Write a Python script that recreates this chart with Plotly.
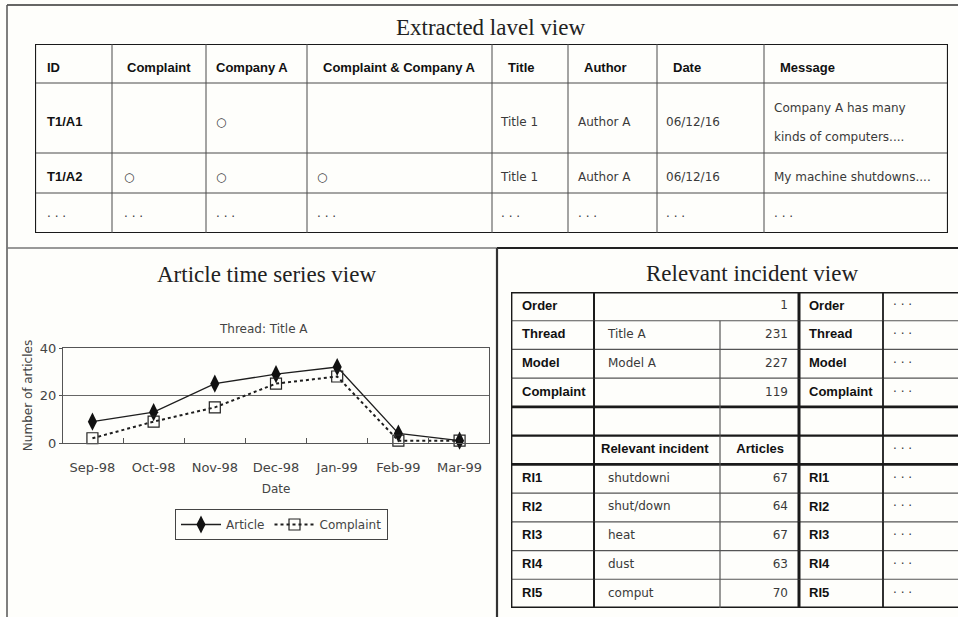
import plotly.graph_objects as go

W, H = 958, 617
def px(x): return x / W
def py(y): return 1 - y / H

# ---------------- data ----------------
months = ["Sep-98", "Oct-98", "Nov-98", "Dec-98", "Jan-99", "Feb-99", "Mar-99"]
article_counts = [9, 13, 25, 29, 32, 4, 1]
complaint_counts = [2, 9, 15, 25, 28, 1, 1]
y_ticks = [0, 20, 40]

DOTS = "· · ·"
ext_headers = ["ID", "Complaint", "Company A", "Complaint & Company A", "Title", "Author", "Date", "Message"]
ext_id = ["T1/A1", "T1/A2", DOTS]
ext_complaint = ["", "○", DOTS]
ext_company = ["○", "○", DOTS]
ext_both = ["", "○", DOTS]
ext_title = ["Title 1", "Title 1", DOTS]
ext_author = ["Author A", "Author A", DOTS]
ext_date = ["06/12/16", "06/12/16", DOTS]
ext_message = ["Company A has many<br>kinds of computers....", "My machine shutdowns....", DOTS]

ri_header = ["Order", "", "1", "Order", DOTS]
ri_label = ["Thread", "Model", "Complaint", "", "", "RI1", "RI2", "RI3", "RI4", "RI5"]
ri_name = ["Title A", "Model A", "", "", "Relevant incident", "shutdowni", "shut/down", "heat", "dust", "comput"]
ri_count = ["231", "227", "119", "", "Articles", "67", "64", "67", "63", "70"]
ri_label2 = ["Thread", "Model", "Complaint", "", "", "RI1", "RI2", "RI3", "RI4", "RI5"]
ri_more = [DOTS, DOTS, DOTS, "", DOTS, DOTS, DOTS, DOTS, DOTS, DOTS]

# ---------------- styles ----------------
BG = "#fefefb"
BOLD_FAMILY = "Liberation Sans, Arial, sans-serif"
REG_FAMILY = "DejaVu Sans, sans-serif"
SERIF = "Liberation Serif, Times New Roman, serif"
TXT = "#3a3a3a"

fig = go.Figure()
shapes = []


def add_table(n, left, top, col_w, row_h, rows, align, pads, bold_fn, pad_over,
              bold_size, reg_size, dy, line_gap, hlines, vlines, grid_color, grid_w,
              skip_v=()):
    """Draw a table on its own (hidden) axis pair n, in pixel-like units."""
    tw, th = sum(col_w), sum(row_h)
    xa, ya = f"xaxis{n}", f"yaxis{n}"
    fig.update_layout(**{
        xa: dict(domain=[px(left), px(left + tw)], range=[0, tw], visible=False,
                 anchor=f"y{n}", fixedrange=True, automargin=False),
        ya: dict(domain=[py(top + th), py(top)], range=[th, 0], visible=False,
                 anchor=f"x{n}", fixedrange=True, automargin=False),
    })
    cx = [sum(col_w[:i]) for i in range(len(col_w) + 1)]
    ry = [sum(row_h[:i]) for i in range(len(row_h) + 1)]
    xs, ys, ts, pos, fam, siz, col = [], [], [], [], [], [], []
    for r, row in enumerate(rows):
        for c, s in enumerate(row):
            if not s:
                continue
            bold = bold_fn(r, c, s)
            pad = pad_over.get((r, c), pads[r == 0][c])
            a = align[c]
            if a == "left":
                x, tp = cx[c] + pad, "middle right"
            elif a == "right":
                x, tp = cx[c + 1] - pad, "middle left"
            else:
                x, tp = (cx[c] + cx[c + 1]) / 2, "middle center"
            lines = s.split("<br>")
            yc = (ry[r] + ry[r + 1]) / 2 + dy
            for k, ln in enumerate(lines):
                xs.append(x)
                ys.append(yc + (k - (len(lines) - 1) / 2) * line_gap)
                ts.append(f"<b>{ln}</b>" if bold else ln)
                pos.append(tp)
                fam.append(BOLD_FAMILY if bold else REG_FAMILY)
                siz.append(bold_size if bold else reg_size)
                col.append("#111" if bold else TXT)
    fig.add_trace(go.Scatter(
        x=xs, y=ys, text=ts, mode="text", textposition=pos,
        textfont=dict(family=fam, size=siz, color=col),
        xaxis=f"x{n}", yaxis=f"y{n}", showlegend=False, hoverinfo="skip",
        cliponaxis=False,
    ))
    # grid
    for i, yv in enumerate(ry):
        w = hlines.get(i, grid_w)
        shapes.append(dict(type="line", xref=f"x{n}", yref=f"y{n}", x0=0, x1=tw, y0=yv, y1=yv,
                           line=dict(color=grid_color if w < 1.8 else "#1a1a1a", width=w)))
    for j, xv in enumerate(cx):
        w = vlines.get(j, grid_w)
        if w == 0:
            continue
        segs = [(ry[i], ry[i + 1]) for i in range(len(row_h)) if (i, j) not in skip_v]
        for y0, y1 in segs:
            shapes.append(dict(type="line", xref=f"x{n}", yref=f"y{n}", x0=xv, x1=xv, y0=y0, y1=y1,
                               line=dict(color=grid_color if w < 1.8 else "#1a1a1a", width=w)))


# ---------------- top table ----------------
ext_rows = [ext_headers] + [list(r) for r in zip(ext_id, ext_complaint, ext_company, ext_both,
                                                   ext_title, ext_author, ext_date, ext_message)]
add_table(
    2, 35, 44, [77, 94, 101, 185, 76, 89, 107, 184], [39, 70, 40, 40], ext_rows,
    align=["left"] * 8,
    pads={True: [12, 15, 10, 16, 16, 16, 16, 16], False: [12, 12, 10, 10, 9, 10, 9, 10]},
    bold_fn=lambda r, c, s: r == 0 or (c == 0 and s != DOTS),
    pad_over={}, bold_size=13, reg_size=12, dy=5, line_gap=29,
    hlines={0: 2.2, 4: 2.2}, vlines={0: 2.2, 8: 2.2}, grid_color="#4a4a4a", grid_w=1,
)

# ---------------- right table ----------------
ri_rows = [ri_header] + [list(r) for r in zip(ri_label, ri_name, ri_count, ri_label2, ri_more)]
n_rows = len(ri_rows)
add_table(
    3, 511, 292, [83, 126, 79, 84, 75], [316 / n_rows] * n_rows, ri_rows,
    align=["left", "left", "right", "left", "left"],
    pads={True: [11, 14, 11, 10, 10], False: [11, 14, 11, 10, 10]},
    bold_fn=lambda r, c, s: (c in (0, 3) and s != DOTS) or s in ("Relevant incident", "Articles"),
    pad_over={(5, 1): 7, (5, 2): 15}, bold_size=13, reg_size=12, dy=0, line_gap=16,
    hlines={0: 2.8, 4: 2.6, 5: 2.2, 6: 2.6, 11: 2.8},
    vlines={0: 2.8, 1: 2.0, 3: 3.0, 4: 1.8, 5: 0}, grid_color="#555", grid_w=1.2,
    skip_v={(0, 2)},
)

# ---------------- chart ----------------
fig.add_trace(go.Scatter(
    x=months, y=article_counts, name="Article", mode="lines+markers",
    line=dict(color="#1e1e1e", width=1.3),
    marker=dict(symbol="diamond-tall", size=13, color="#111"),
    xaxis="x", yaxis="y", cliponaxis=False,
))
fig.add_trace(go.Scatter(
    x=months, y=complaint_counts, name="Complaint", mode="lines+markers",
    line=dict(color="#1e1e1e", width=2, dash="dot"),
    marker=dict(symbol="square-open", size=11, color="#222", line=dict(width=1.2)),
    xaxis="x", yaxis="y", cliponaxis=False,
))

fig.update_layout(
    width=W, height=H, margin=dict(l=0, r=0, t=0, b=0, pad=0, autoexpand=False),
    paper_bgcolor=BG, plot_bgcolor=BG,
    font=dict(family=REG_FAMILY, color=TXT, size=12),
    xaxis=dict(domain=[px(63), px(489)], type="category", tickson="boundaries",
               ticks="inside", ticklen=5, tickcolor="#555",
               showline=True, linecolor="#555", mirror=True, showgrid=False,
               tickfont=dict(size=13, color="#444"), ticklabelstandoff=12,
               title=dict(text="Date", font=dict(size=12, color="#444"), standoff=11),
               anchor="y", fixedrange=True, automargin=False),
    yaxis=dict(domain=[py(443), py(348)], range=[0, 40], tickvals=y_ticks,
               ticks="outside", ticklen=3, tickcolor="#555",
               showline=True, linecolor="#555", mirror=True,
               showgrid=True, gridcolor="#666", gridwidth=1, zeroline=False,
               tickfont=dict(size=13, color="#444"),
               title=dict(text="Number of articles", font=dict(size=12, color="#444"), standoff=4),
               anchor="x", fixedrange=True, automargin=False),
    legend=dict(orientation="h", x=px(175), y=py(509), xanchor="left", yanchor="top",
                bordercolor="#444", borderwidth=1, bgcolor=BG,
                font=dict(size=12, color="#444"), itemwidth=40),
    showlegend=True,
)

titles = [("Extracted lavel view", 490, 27), ("Article time series view", 266, 275),
          ("Relevant incident view", 752, 273)]
for t, x, y in titles:
    fig.add_annotation(text=t, x=px(x), y=py(y), xref="paper", yref="paper",
                       xanchor="center", yanchor="middle", showarrow=False,
                       font=dict(family=SERIF, size=23, color="#222"))
fig.add_annotation(text="Thread: Title A", x=px(263), y=py(329), xref="paper", yref="paper",
                   xanchor="center", yanchor="middle", showarrow=False,
                   font=dict(size=12, color="#444"))

# ---------------- panel frames ----------------
def pline(x0, y0, x1, y1, w, c):
    shapes.append(dict(type="line", xref="paper", yref="paper", x0=px(x0), x1=px(x1),
                       y0=py(y0), y1=py(y1), line=dict(color=c, width=w)))

pline(7, 5, 962, 5, 1.5, "#333")
pline(7, 5, 7, 630, 1.5, "#555")
pline(7, 248, 497, 248, 1.5, "#777")
pline(497, 248, 962, 248, 2.2, "#222")
pline(497, 248, 497, 630, 2.2, "#333")

fig.update_layout(shapes=shapes)

page_fix = (
    "document.documentElement.style.margin='0';"
    "document.documentElement.style.padding='0';"
    "document.documentElement.style.overflow='hidden';"
    "document.body.style.margin='0';"
    "document.body.style.padding='0';"
    "document.body.style.overflow='hidden';"
    "var gd=document.querySelector('.plotly-graph-div');"
    "if(gd){gd.style.position='fixed';gd.style.left='0px';gd.style.top='0px';}"
)
fig.write_html("out.html", config={"displayModeBar": False}, post_script=page_fix)
